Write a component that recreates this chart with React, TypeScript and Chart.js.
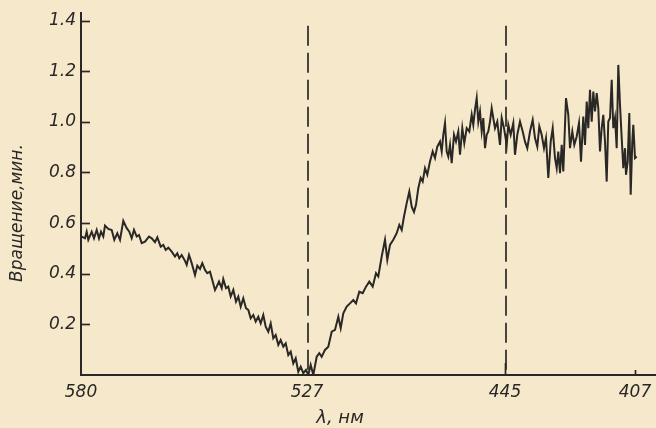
import { useEffect, useRef } from 'react';
import { Chart, registerables } from 'chart.js';

Chart.register(...registerables);

// Recorder scan position (arbitrary chart units along the λ axis)
const scanPos = [
  0.7, 4, 5.7, 7.3, 10.7, 13, 15.7, 18, 20, 22.3, 24, 27.3, 30.7, 33.3, 36.3, 39, 42.3, 45.7, 48.3, 50.7,
  53, 55.7, 58, 60.7, 64, 68, 70.7, 74, 76.3, 79.7, 82.3, 84.7, 87.3, 90.7, 94, 96.3, 98.3, 100.7, 104, 105.7,
  108, 110.7, 114, 116.3, 119, 121.3, 124, 126.3, 129, 131.7, 134, 135.7, 138, 140.7, 142.3, 145, 147.3, 149.7, 152.3, 155,
  157.3, 159.7, 162.3, 165, 167.3, 169.7, 172.3, 174.7, 177.3, 179.7, 182.3, 184.7, 187.3, 189.7, 192.3, 194.7, 197.3, 199.7, 202.3, 204.7,
  207.3, 209.7, 212.3, 214.7, 217.3, 219.7, 222.3, 225, 227.3, 229.7, 232.3, 235.7, 238.3, 240.7, 244, 247.3, 250.7, 254, 257.3, 259.7,
  262.3, 265.7, 269, 272.3, 275, 278.3, 281.7, 285, 288.3, 291.7, 295, 297.3, 300.7, 304, 306.3, 309, 312.3, 315.7, 318.3, 320.7,
  323, 325.7, 328.3, 330.7, 333, 335, 337.3, 339.7, 341.7, 344, 346.3, 349, 351.7, 354, 356.3, 359, 360.7, 362.3, 364, 365.7,
  367.3, 369, 370.7, 373, 375, 377.3, 379, 381.3, 383.3, 385.7, 388.3, 390.7, 392.3, 394, 395.7, 397.3, 399, 400.7, 402.3, 404,
  405.7, 407.3, 409, 410.7, 412.3, 414, 416.3, 419, 420.7, 423, 425.7, 427.3, 429.7, 432.3, 434, 436.3, 439, 441.7, 444, 446.3,
  449, 451.7, 454, 456.3, 458.3, 460.7, 463, 465, 467.3, 469.7, 471.7, 474, 475.7, 477.3, 479, 480.7, 482.3, 485, 487.3, 489,
  491.3, 493.3, 495.7, 498, 500, 502.3, 504, 505.7, 507.3, 509, 510.7, 512.3, 514, 515.7, 517.3, 519, 520.7, 522.3, 524, 525.7,
  527.3, 529, 530.7, 532.3, 534, 535.7, 537.3, 539, 540.7, 542.3, 544, 545, 546.7, 548.3, 549.7, 551.3, 552.3, 554, 555.7,
];

// Optical rotation, minutes of arc
const rotation = [
  0.547, 0.540, 0.566, 0.534, 0.566, 0.540, 0.573, 0.540, 0.566, 0.547, 0.590, 0.577, 0.573, 0.534, 0.560, 0.534, 0.609, 0.580, 0.566, 0.540,
  0.573, 0.547, 0.553, 0.521, 0.527, 0.547, 0.540, 0.525, 0.544, 0.507, 0.514, 0.494, 0.503, 0.487, 0.468, 0.481, 0.461, 0.474, 0.451, 0.435,
  0.474, 0.442, 0.395, 0.432, 0.419, 0.442, 0.415, 0.402, 0.408, 0.369, 0.336, 0.349, 0.369, 0.343, 0.379, 0.343, 0.349, 0.310, 0.336, 0.290,
  0.310, 0.270, 0.303, 0.264, 0.257, 0.224, 0.237, 0.211, 0.230, 0.204, 0.237, 0.191, 0.171, 0.204, 0.145, 0.158, 0.119, 0.138, 0.112, 0.125,
  0.079, 0.092, 0.046, 0.066, 0.013, 0.033, 0.007, 0.020, 0.000, 0.040, 0.000, 0.072, 0.086, 0.072, 0.099, 0.112, 0.171, 0.178, 0.230, 0.185,
  0.244, 0.270, 0.283, 0.296, 0.283, 0.329, 0.323, 0.349, 0.369, 0.349, 0.402, 0.389, 0.468, 0.534, 0.455, 0.514, 0.534, 0.560, 0.593, 0.573,
  0.626, 0.679, 0.725, 0.665, 0.644, 0.672, 0.738, 0.778, 0.764, 0.817, 0.791, 0.843, 0.883, 0.857, 0.902, 0.922, 0.883, 0.949, 0.995, 0.883,
  0.863, 0.909, 0.837, 0.949, 0.922, 0.962, 0.870, 0.975, 0.916, 0.975, 0.962, 1.028, 0.988, 1.048, 1.094, 1.001, 1.041, 0.962, 1.015, 0.896,
  0.949, 0.962, 1.001, 1.054, 1.015, 0.975, 1.001, 0.909, 1.015, 0.975, 0.909, 0.988, 0.949, 0.995, 0.870, 0.949, 1.001, 0.962, 0.922, 0.896,
  0.962, 1.008, 0.936, 0.902, 0.982, 0.949, 0.896, 0.936, 0.778, 0.922, 0.975, 0.857, 0.817, 0.883, 0.797, 0.909, 0.804, 1.094, 1.028, 0.896,
  0.962, 0.909, 0.942, 0.995, 0.843, 1.021, 0.909, 1.080, 0.975, 1.127, 1.001, 1.120, 1.041, 1.114, 1.054, 0.883, 0.975, 1.028, 0.922, 0.764,
  1.001, 1.015, 1.166, 0.975, 1.015, 0.896, 1.225, 1.067, 0.936, 0.817, 0.896, 0.791, 0.843, 1.035, 0.712, 0.922, 0.988, 0.857, 0.863,
];

const tickWavelengths = [580, 527, 445, 407];
const tickScanPos = [0, 226, 424, 554];
const yTickValues = [0.2, 0.4, 0.6, 0.8, 1.0, 1.2, 1.4];
const markerWavelengths = [527, 445];
const markerTopValue = 1.38;
const xRange = [0, 575];
const yRange = [0, 1.43];
const yTitle = 'Вращение,мин.';
const xTitle = 'λ, нм';

const INK = '#2a2826';
const PAPER = '#f6e8cb';
const FAMILY = "'DejaVu Sans', 'Liberation Sans', sans-serif";

const decorPlugin = {
  id: 'decor',
  beforeDatasetsDraw(chart: any) {
    const { ctx, scales } = chart;
    const x = scales.x;
    const y = scales.y;
    ctx.save();
    ctx.strokeStyle = INK;
    ctx.lineWidth = 1.7;
    ctx.setLineDash([20, 7]);
    markerWavelengths.forEach((w) => {
      const i = tickWavelengths.indexOf(w);
      const px = Math.round(x.getPixelForValue(tickScanPos[i])) + 1;
      ctx.beginPath();
      ctx.moveTo(px, y.getPixelForValue(markerTopValue));
      ctx.lineTo(px, y.getPixelForValue(0));
      ctx.stroke();
    });
    ctx.restore();
  },
  afterDraw(chart: any) {
    const { ctx, scales, chartArea } = chart;
    const x = scales.x;
    const y = scales.y;
    ctx.save();
    ctx.strokeStyle = INK;
    ctx.lineWidth = 1.7;
    // inward ticks on the y axis
    yTickValues.forEach((v) => {
      const py = Math.round(y.getPixelForValue(v)) + 0.5;
      ctx.beginPath();
      ctx.moveTo(chartArea.left, py);
      ctx.lineTo(chartArea.left + 9, py);
      ctx.stroke();
    });
    // inward ticks on the x axis
    const tickLens = [0, 0, 12, 5];
    tickScanPos.forEach((s, i) => {
      if (!tickLens[i]) return;
      const px = Math.round(x.getPixelForValue(s)) + 0.5;
      ctx.beginPath();
      ctx.moveTo(px, chartArea.bottom);
      ctx.lineTo(px, chartArea.bottom - tickLens[i]);
      ctx.stroke();
    });
    // axis titles
    ctx.fillStyle = INK;
    ctx.font = `italic 17px ${FAMILY}`;
    ctx.textAlign = 'center';
    ctx.textBaseline = 'middle';
    ctx.save();
    ctx.translate(18, 213);
    ctx.rotate(-Math.PI / 2);
    ctx.fillText(yTitle, 0, 0);
    ctx.restore();
    ctx.font = `italic 18px ${FAMILY}`;
    ctx.fillText(xTitle, 340, 418);
    ctx.restore();
  },
};

export default function App() {
  const canvasRef = useRef<HTMLCanvasElement | null>(null);

  useEffect(() => {
    const canvas = canvasRef.current;
    if (!canvas) return;
    const tickFont = { family: FAMILY, size: 17, style: 'italic' as const };
    const chart = new Chart(canvas, {
      type: 'line',
      data: {
        datasets: [
          {
            data: scanPos.map((s, i) => ({ x: s, y: rotation[i] })),
            borderColor: INK,
            borderWidth: 2,
            pointRadius: 0,
            tension: 0,
            fill: false,
          },
        ],
      },
      options: {
        animation: false,
        responsive: false,
        devicePixelRatio: 1,
        layout: { padding: { top: 13, left: 0, right: 0, bottom: 0 } },
        plugins: { legend: { display: false }, tooltip: { enabled: false } },
        scales: {
          x: {
            type: 'linear',
            min: xRange[0],
            max: xRange[1],
            grid: { display: false, drawTicks: false },
            border: { display: true, color: INK, width: 2 },
            afterBuildTicks: (s: any) => {
              s.ticks = tickScanPos.map((v) => ({ value: v }));
            },
            afterFit: (s: any) => {
              s.height = 53;
              s.paddingRight = 0;
              s.paddingLeft = 0;
            },
            ticks: {
              autoSkip: false,
              maxRotation: 0,
              padding: 7,
              color: INK,
              font: tickFont,
              callback: (v: any) => {
                const i = tickScanPos.indexOf(Number(v));
                return i >= 0 ? String(tickWavelengths[i]) : '';
              },
            },
          },
          y: {
            type: 'linear',
            min: yRange[0],
            max: yRange[1],
            grid: { display: false, drawTicks: false },
            border: { display: true, color: INK, width: 2 },
            afterBuildTicks: (s: any) => {
              s.ticks = yTickValues.map((v) => ({ value: v }));
            },
            afterFit: (s: any) => {
              s.width = 81;
              s.paddingTop = 0;
              s.paddingBottom = 0;
            },
            ticks: {
              padding: 5,
              color: INK,
              font: tickFont,
              callback: (v: any) => Number(v).toFixed(1),
            },
          },
        },
      },
      plugins: [decorPlugin],
    });
    return () => chart.destroy();
  }, []);

  return (
    <div style={{ position: 'fixed', left: 0, top: 0, width: 656, height: 428, background: PAPER }}>
      <canvas ref={canvasRef} width={656} height={428} style={{ display: 'block' }} />
    </div>
  );
}
